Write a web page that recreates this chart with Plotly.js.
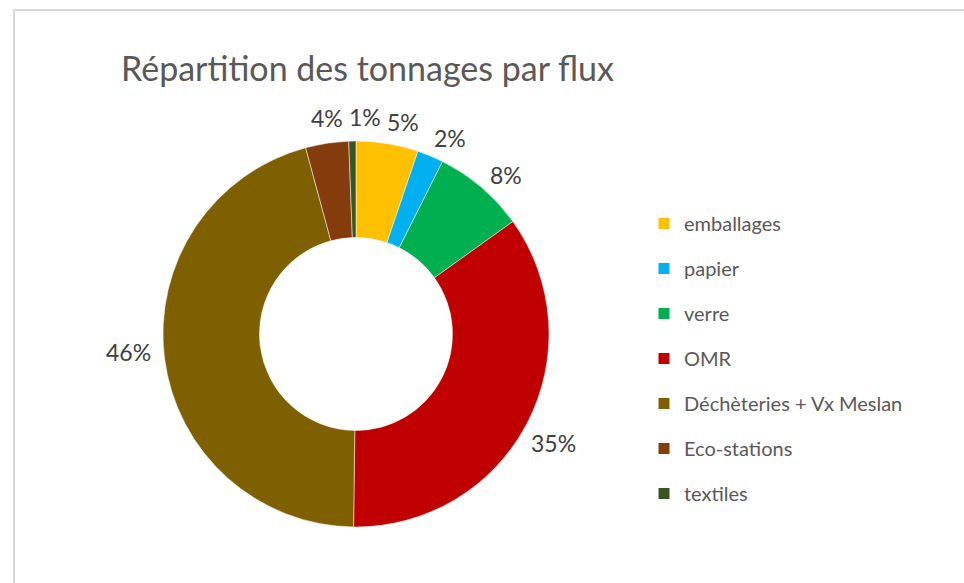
<!DOCTYPE html>
<html>
<head>
<meta charset="utf-8">
<script src="https://cdn.plot.ly/plotly-3.0.1.min.js"></script>
<style>html,body{margin:0;padding:0;background:#fff;}#chart{width:964px;height:583px;}</style>
</head>
<body>
<div id="chart"></div>
<script>
// ---- data ----
const labels = ['emballages', 'papier', 'verre', 'OMR', 'Déchèteries + Vx Meslan', 'Eco-stations', 'textiles'];
const values = [5.2, 2.2, 7.7, 35.1, 45.6, 3.6, 0.6];
const colors = ['#FFC000', '#00B0F0', '#00B050', '#C00000', '#7F6000', '#843C0C', '#375623'];
const chartTitle = 'Répartition des tonnages par flux';

// ---- layout geometry ----
const W = 964, H = 583;
const cx = 356, cy = 334, R = 193;
const FONT = 'Lato, "Open Sans", sans-serif';
const LABEL_SIZE = 23;

const total = values.reduce((a, b) => a + b, 0);

const pie = {
  type: 'pie',
  labels: labels,
  values: values,
  sort: false,
  direction: 'clockwise',
  rotation: 0,
  hole: 0.5,
  marker: {colors: colors, line: {color: '#ffffff', width: 0.5}},
  textinfo: 'none',
  showlegend: false,
  domain: {x: [(cx - R) / W, (cx + R) / W], y: [1 - (cy + R) / H, 1 - (cy - R) / H]}
};

// legend entries drawn as empty marker traces so that the spacing can be controlled
const legendTraces = labels.map((lab, i) => ({
  type: 'scatter', mode: 'markers', x: [null], y: [null],
  name: lab, legendgroup: 'g' + i, showlegend: true,
  marker: {symbol: 'square', size: 11, color: colors[i]},
  hoverinfo: 'skip'
}));

// percentage labels placed outside each slice, from the data
const boxes = [];
let cum = 0;
values.forEach((v, i) => {
  const mid = (cum + v / 2) / total + 0.007;
  cum += v;
  const th = 2 * Math.PI * mid;
  const dx = Math.sin(th), dy = -Math.cos(th);
  const txt = Math.round(v / total * 100) + '%';
  const hw = txt.length * LABEL_SIZE * 0.33, hh = 12, g = 12;
  boxes.push({
    txt: txt, hw: hw, hh: hh,
    x: cx + dx * (R + g) + dx * hw,
    y: cy + dy * (R + g) + dy * hh
  });
});
// simple horizontal separation of overlapping labels
for (let it = 0; it < 30; it++) {
  for (let a = 0; a < boxes.length; a++) {
    for (let b = a + 1; b < boxes.length; b++) {
      const A = boxes[a], B = boxes[b];
      if (Math.abs(A.y - B.y) >= A.hh + B.hh) continue;
      const need = A.hw + B.hw + 8 - Math.abs(A.x - B.x);
      if (need > 0) {
        const s = A.x < B.x ? -1 : 1;
        A.x += s * need / 2; B.x -= s * need / 2;
      }
    }
  }
}
const annotations = boxes.map(bx => ({
  xref: 'paper', yref: 'paper', x: bx.x / W, y: 1 - bx.y / H,
  xanchor: 'center', yanchor: 'middle', showarrow: false,
  text: bx.txt,
  font: {family: FONT, size: LABEL_SIZE, color: '#404040'}
}));

const layout = {
  width: W, height: H,
  margin: {l: 0, r: 0, t: 0, b: 0},
  paper_bgcolor: '#ffffff', plot_bgcolor: '#ffffff',
  title: {
    text: chartTitle, xref: 'container', yref: 'container',
    x: 121 / W, xanchor: 'left', y: 1 - 57 / H, yanchor: 'top',
    font: {family: FONT, size: 34, color: '#595959'}
  },
  xaxis: {visible: false, fixedrange: true},
  yaxis: {visible: false, fixedrange: true},
  showlegend: true,
  legend: {
    x: 644 / W, xanchor: 'left', y: 1 - 204 / H, yanchor: 'top',
    tracegroupgap: 16, itemclick: false,
    font: {family: FONT, size: 20, color: '#595959'},
    bgcolor: 'rgba(0,0,0,0)'
  },
  annotations: annotations,
  shapes: [
    {type: 'line', xref: 'paper', yref: 'paper', x0: 14 / W, x1: 14 / W, y0: 0, y1: 1 - 10 / H, line: {color: '#d9d9d9', width: 2}},
    {type: 'line', xref: 'paper', yref: 'paper', x0: 14 / W, x1: 1, y0: 1 - 10 / H, y1: 1 - 10 / H, line: {color: '#d9d9d9', width: 2}}
  ]
};

Plotly.newPlot('chart', [pie].concat(legendTraces), layout, {displayModeBar: false, staticPlot: true});
</script>
</body>
</html>
